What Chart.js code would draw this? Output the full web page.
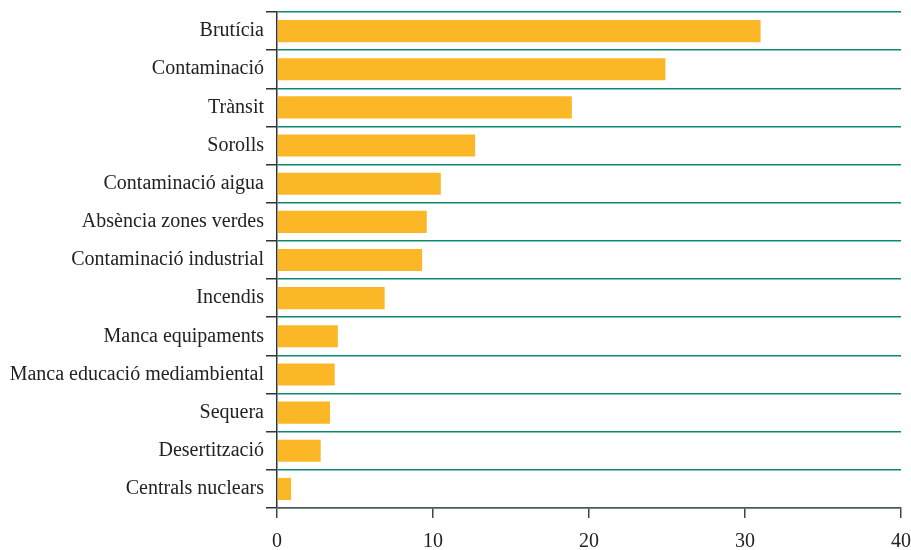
<!DOCTYPE html>
<html>
<head>
<meta charset="utf-8">
<script src="https://cdn.jsdelivr.net/npm/chart.js@4/dist/chart.umd.min.js"></script>
<style>
  html, body { margin: 0; padding: 0; background: #fff; }
</style>
</head>
<body>
<canvas id="chart" width="911" height="550"></canvas>
<script>
// categories and values
const categories = [
  'Brutícia', 'Contaminació', 'Trànsit', 'Sorolls', 'Contaminació aigua',
  'Absència zones verdes', 'Contaminació industrial', 'Incendis',
  'Manca equipaments', 'Manca educació mediambiental', 'Sequera',
  'Desertització', 'Centrals nuclears'
];
const values = [31.0, 24.9, 18.9, 12.7, 10.5, 9.6, 9.3, 6.9, 3.9, 3.7, 3.4, 2.8, 0.9];
const xTicks = [0, 10, 20, 30, 40];

const font = { family: "'Liberation Serif', 'Times New Roman', serif", size: 20 };

new Chart(document.getElementById('chart').getContext('2d'), {
  type: 'bar',
  data: {
    labels: categories,
    datasets: [{
      data: values,
      backgroundColor: '#fbb726',
      categoryPercentage: 1,
      barPercentage: 0.58
    }]
  },
  options: {
    indexAxis: 'y',
    responsive: false,
    animation: false,
    devicePixelRatio: 1,
    layout: { padding: { top: 12, right: 0, left: 0, bottom: 0 } },
    plugins: { legend: { display: false }, tooltip: { enabled: false } },
    scales: {
      y: {
        afterFit: (s) => { s.width = 277; s.paddingTop = 0; },
        grid: { color: '#0b8a72', lineWidth: 1.5, tickColor: '#333', tickLength: 11, offset: true },
        border: { color: '#333', width: 1.5 },
        ticks: { color: '#222', font: font, padding: 2, autoSkip: false }
      },
      x: {
        min: 0,
        max: 40,
        afterFit: (s) => { s.height = 42; s.paddingRight = 10; },
        afterBuildTicks: (s) => { s.ticks = xTicks.map(v => ({ value: v })); },
        grid: { drawOnChartArea: false, color: '#444', tickLength: 10, lineWidth: 1.5 },
        border: { color: '#555', width: 1.5 },
        ticks: { color: '#222', font: font, padding: 12, maxRotation: 0, autoSkip: false }
      }
    }
  }
});
</script>
</body>
</html>
